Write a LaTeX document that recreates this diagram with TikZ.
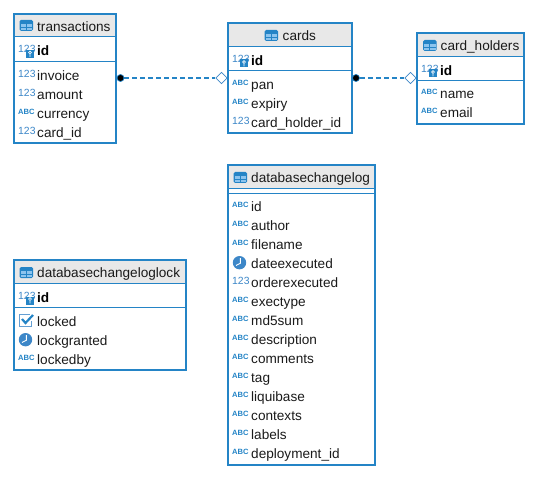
\documentclass[tikz,border=0pt]{standalone}
\usepackage{fontspec}
\setmainfont{Liberation Sans}
\usetikzlibrary{arrows.meta, positioning, calc, shapes.geometric}
\definecolor{dbblue}{HTML}{2484C6}
\definecolor{iconblue}{HTML}{3D87C8}
\definecolor{celllight}{HTML}{8CC4EE}
\definecolor{headgray}{HTML}{E8E8E8}
\definecolor{inkblack}{HTML}{1A1A1A}

\tikzset{
  tableframe/.style={draw=dbblue, line width=2pt},
  tablerule/.style={draw=dbblue, line width=1pt},
  tabletitle/.style={anchor=west, inner sep=0pt, text=inkblack, text height=10.6pt, text depth=0pt, font=\fontsize{13.6}{15}\selectfont},
  rowlabel/.style={tabletitle},
  keylabel/.style={tabletitle, font=\fontsize{13.6}{15}\selectfont\bfseries, text=black},
  numglyph/.style={inner sep=0pt, text=iconblue, font=\fontsize{10.4}{11}\selectfont},
  abcglyph/.style={inner sep=0pt, text=dbblue, font=\fontsize{7.6}{9}\selectfont\bfseries},
  fkdot/.style={circle, fill=black, draw=dbblue, line width=0.7pt, minimum size=7pt, inner sep=0pt},
  fkdiamond/.style={diamond, fill=white, draw=iconblue, line width=0.8pt, minimum size=11.5pt, inner sep=0pt},
  relation/.style={draw=dbblue, line width=1.7pt, dash pattern=on 5pt off 3pt}
}

% header icon of a table, left edge and centre height
\newcommand{\icontable}[2]{
  \fill[dbblue, rounded corners=1.5pt] (#1,#2-5.5) rectangle (#1+13.5,#2+5.5);
  \fill[celllight] (#1+1,#2-1.5) rectangle (#1+6.3,#2+1.5);
  \fill[celllight] (#1+7.2,#2-1.5) rectangle (#1+12.5,#2+1.5);
  \fill[celllight] (#1+1,#2+2.2) rectangle (#1+6.3,#2+4.5);
  \fill[celllight] (#1+7.2,#2+2.2) rectangle (#1+12.5,#2+4.5);
}
% column type icons, left edge and centre height of the row
\newcommand{\iconnum}[2]{\node[numglyph, anchor=west] (n#1x#2) at (#1,#2-1.5) {123};}
\newcommand{\iconabc}[2]{\node[abcglyph, anchor=west] (a#1x#2) at (#1,#2-1.5) {ABC};}
\newcommand{\iconkey}[2]{
  \iconnum{#1}{#2+0.5}
  \fill[dbblue] (#1+8,#2) rectangle (#1+16,#2+8);
  \draw[white, line width=0.7pt] (#1+12,#2+2.6) circle (1.4pt) (#1+12,#2+4) -- (#1+12,#2+6.8);
}
\newcommand{\iconclock}[2]{
  \fill[iconblue] (#1+7.5,#2-0.3) circle (6.7pt);
  \draw[white, line width=0.9pt] (#1+8.3,#2-5) -- (#1+8.3,#2+0.3) -- (#1+4,#2+2.5);
}
\newcommand{\iconcheck}[2]{
  \draw[iconblue!80, line width=1pt] (#1+12,#2-6.5) -| (#1+1.5,#2+5.5) -| (#1+13,#2);
  \draw[dbblue, line width=2.2pt] (#1+4,#2-2) -- (#1+7.5,#2+2) -- (#1+15,#2-6);
}

\begin{document}
\begin{tikzpicture}[x=1pt, y=-1pt]
\useasboundingbox (0,0) rectangle (559,486);

% transactions
\fill[headgray] (14,14) rectangle (116,37);
\draw[tablerule] (14,37) -- (116,37) (14,61.5) -- (116,61.5);
\draw[tableframe] (14,14) rectangle (116,143.5);
\icontable{19.5}{25.5}
\node[tabletitle] (transactions) at (37,26) {transactions};
\iconkey{18}{50}
\node[keylabel] (transactionsid) at (37,50.5) {id};
\foreach \y/\icon/\name in {75/\iconnum/invoice, 94/\iconnum/amount, 113/\iconabc/currency, 132/\iconnum/card\_id} {
  \icon{18}{\y}
  \node[rowlabel] (transactions\y) at (37,\y) {\name};
}

% cards
\fill[headgray] (228,23) rectangle (352,46.5);
\draw[tablerule] (228,46.5) -- (352,46.5) (228,70.5) -- (352,70.5);
\draw[tableframe] (228,23) rectangle (352,133);
\icontable{264.5}{35.5}
\node[tabletitle] (cards) at (282.5,35.5) {cards};
\iconkey{232}{59.5}
\node[keylabel] (cardsid) at (251,60) {id};
\foreach \y/\icon/\name in {84/\iconabc/pan, 103/\iconabc/expiry, 122/\iconnum/card\_holder\_id} {
  \icon{232}{\y}
  \node[rowlabel] (cards\y) at (251,\y) {\name};
}

% card_holders
\fill[headgray] (417,33) rectangle (524,56.5);
\draw[tablerule] (417,56.5) -- (524,56.5) (417,80.5) -- (524,80.5);
\draw[tableframe] (417,33) rectangle (524,124.5);
\icontable{423}{45.5}
\node[tabletitle] (cardholders) at (440.5,45.5) {card\_holders};
\iconkey{421}{69.5}
\node[keylabel] (cardholdersid) at (440,70) {id};
\foreach \y/\icon/\name in {93.5/\iconabc/name, 112.5/\iconabc/email} {
  \icon{421}{\y}
  \node[rowlabel] (cardholders\y) at (440,\y) {\name};
}

% relations
\node[fkdot] (transactionsfk) at (120.5,78) {};
\node[fkdiamond] (cardsend) at (221.5,78) {};
\draw[relation] (transactionsfk) -- (cardsend);
\node[fkdot] (cardsfk) at (356,78) {};
\node[fkdiamond] (cardholdersend) at (410.5,78) {};
\draw[relation] (cardsfk) -- (cardholdersend);

% databasechangeloglock
\fill[headgray] (14,260) rectangle (186,283.5);
\draw[tablerule] (14,283.5) -- (186,283.5) (14,307.5) -- (186,307.5);
\draw[tableframe] (14,260) rectangle (186,370);
\icontable{19.5}{272.5}
\node[tabletitle] (changeloglock) at (37,272.5) {databasechangeloglock};
\iconkey{18}{296.5}
\node[keylabel] (changeloglockid) at (37,297) {id};
\foreach \y/\icon/\name in {321/\iconcheck/locked, 340/\iconclock/lockgranted, 359/\iconabc/lockedby} {
  \icon{18}{\y}
  \node[rowlabel] (changeloglock\y) at (37,\y) {\name};
}

% databasechangelog
\fill[headgray] (228,165.5) rectangle (375,188.5);
\draw[tablerule] (228,188.5) -- (375,188.5) (228,193.5) -- (375,193.5);
\draw[tableframe] (228,165.5) rectangle (375,465);
\icontable{233.5}{177.5}
\node[tabletitle] (changelog) at (251,177.5) {databasechangelog};
\foreach \y/\icon/\name in {206/\iconabc/id, 225/\iconabc/author, 244/\iconabc/filename, 263/\iconclock/dateexecuted,
  282/\iconnum/orderexecuted, 301/\iconabc/exectype, 320/\iconabc/md5sum, 339/\iconabc/description, 358/\iconabc/comments,
  377/\iconabc/tag, 396/\iconabc/liquibase, 415/\iconabc/contexts, 434/\iconabc/labels, 453/\iconabc/deployment\_id} {
  \icon{232}{\y}
  \node[rowlabel] (changelog\y) at (251,\y) {\name};
}

\end{tikzpicture}
\end{document}
